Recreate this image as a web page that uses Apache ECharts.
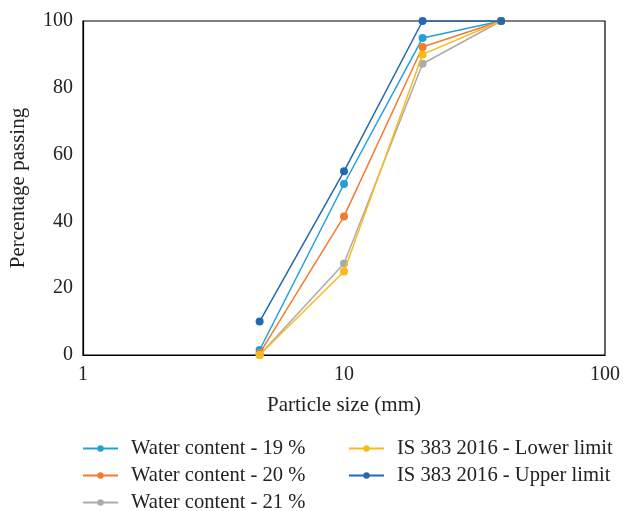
<!DOCTYPE html>
<html>
<head>
<meta charset="utf-8">
<script src="https://cdn.jsdelivr.net/npm/echarts@6/dist/echarts.min.js"></script>
<style>
  html, body { margin: 0; padding: 0; background: #fff; }
  #chart { width: 627px; height: 511px; }
</style>
</head>
<body>
<div id="chart"></div>
<script>
// Sieve sizes (mm) and percentage passing for each mix / grading limit
const sieveSizes = [4.75, 10, 20, 40];
const wc19 = [1.5, 51.2, 94.9, 100];
const wc20 = [0.5, 41.5, 92.2, 100];
const wc21 = [0, 27.4, 87.2, 100];
const lowerLimit = [0, 25, 90, 100];
const upperLimit = [10, 55, 100, 100];

const seriesNames = [
  'Water content - 19 %',
  'Water content - 20 %',
  'Water content - 21 %',
  'IS 383 2016 - Lower limit',
  'IS 383 2016 - Upper limit'
];
const seriesValues = [wc19, wc20, wc21, lowerLimit, upperLimit];
const seriesColors = ['#22A0DC', '#F07C2E', '#ABABAB', '#FDB917', '#2468B0'];

const FONT = '"Liberation Serif", "DejaVu Serif", serif';

const chart = echarts.init(document.getElementById('chart'));

const series = seriesNames.map((name, i) => ({
  name: name,
  type: 'line',
  data: sieveSizes.map((s, j) => [s, seriesValues[i][j]]),
  symbol: 'circle',
  symbolSize: 8,
  color: seriesColors[i],
  lineStyle: { width: 1.5, color: seriesColors[i] },
  itemStyle: { color: seriesColors[i] },
  z: 2 + i,
  animation: false
}));

// Legend laid out as two columns: one legend box per entry
const legendSlots = [
  { left: 82, top: 438 },
  { left: 82, top: 465 },
  { left: 82, top: 492 },
  { left: 348, top: 438 },
  { left: 348, top: 465 }
];
const legends = seriesNames.map((name, i) => ({
  data: [name],
  left: legendSlots[i].left,
  top: legendSlots[i].top,
  padding: 0,
  itemWidth: 35,
  itemHeight: 8,
  textStyle: {
    fontFamily: FONT, fontSize: 20.6, color: '#222',
    padding: [0, 0, 0, 8]
  }
}));

chart.setOption({
  animation: false,
  grid: {
    left: 81, right: 22, top: 21, bottom: 156,
    show: true, borderColor: '#000', borderWidth: 1.2
  },
  xAxis: {
    type: 'log',
    logBase: 10,
    min: 1,
    max: 100,
    name: 'Particle size (mm)',
    nameLocation: 'middle',
    nameGap: 40,
    nameTextStyle: { fontFamily: FONT, fontSize: 21, color: '#222' },
    axisLine: { show: true, lineStyle: { color: '#000', width: 1.2 } },
    axisTick: { show: false },
    splitLine: { show: false },
    minorTick: { show: false },
    axisLabel: { fontFamily: FONT, fontSize: 20, color: '#222', margin: 10 }
  },
  yAxis: {
    type: 'value',
    min: 0,
    max: 100,
    interval: 20,
    name: 'Percentage passing',
    nameLocation: 'middle',
    nameGap: 54,
    nameTextStyle: { fontFamily: FONT, fontSize: 21, color: '#222' },
    axisLine: { show: true, lineStyle: { color: '#000', width: 1.2 } },
    axisTick: { show: false },
    splitLine: { show: false },
    axisLabel: { fontFamily: FONT, fontSize: 20, color: '#222', margin: 10 }
  },
  legend: legends,
  series: series
});
</script>
</body>
</html>
